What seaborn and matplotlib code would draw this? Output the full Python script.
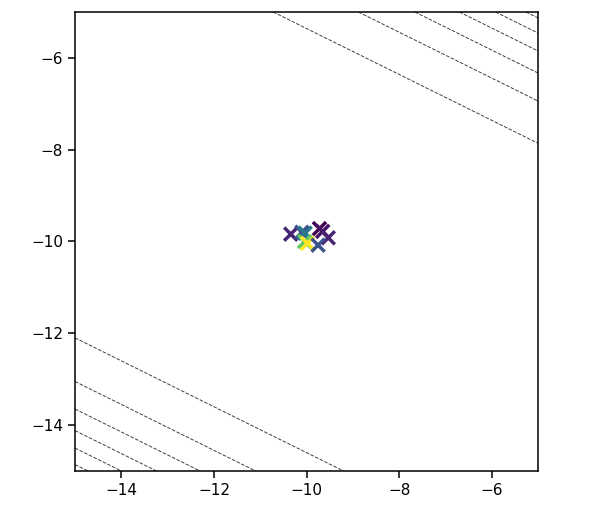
import numpy as np
import pandas as pd
import matplotlib
matplotlib.use("Agg")
import matplotlib.pyplot as plt
import seaborn as sns

# samples near the optimum (x, y, colour value)
px = [-10.34, -10.10, -10.03, -9.72, -9.65, -9.53, -10.04, -9.98, -9.75]
py = [-9.84, -9.80, -9.82, -9.72, -9.78, -9.92, -10.00, -10.04, -10.08]
pc = [0.10, 0.25, 0.40, 0.00, 0.05, 0.10, 0.75, 1.00, 0.25]

levels = [-22.36, -22.0, -21.62, -21.15, -20.55, -19.6,
          -10.36, -9.44, -8.83, -8.35, -7.96, -7.63]

xlim = (-15, -5)
ylim = (-15, -5)

df = pd.DataFrame({'x': px, 'y': py, 'c': pc})

fig = plt.figure(figsize=(5.98, 5.14), dpi=100)
ax = fig.add_axes([0.1254, 0.0837, 0.7743, 0.893])

gx, gy = np.meshgrid(np.linspace(*xlim, 300), np.linspace(*ylim, 300))
ax.contour(gx, gy, 0.5 * gx + gy, levels=levels, colors='0.25',
           linestyles='dashed', linewidths=0.7)

sns.scatterplot(data=df, x='x', y='y', hue='c', palette='viridis',
                hue_norm=(0, 1), marker='x', s=90, linewidth=2.5,
                legend=False, ax=ax)

ax.set_xlim(*xlim)
ax.set_ylim(*ylim)
ax.set_xticks([-14, -12, -10, -8, -6])
ax.set_yticks([-14, -12, -10, -8, -6])
ax.set_xlabel('')
ax.set_ylabel('')
ax.tick_params(labelsize=11, length=5, width=1.1)
for s in ax.spines.values():
    s.set_linewidth(1.1)

fig.savefig('out.png', dpi=100)
